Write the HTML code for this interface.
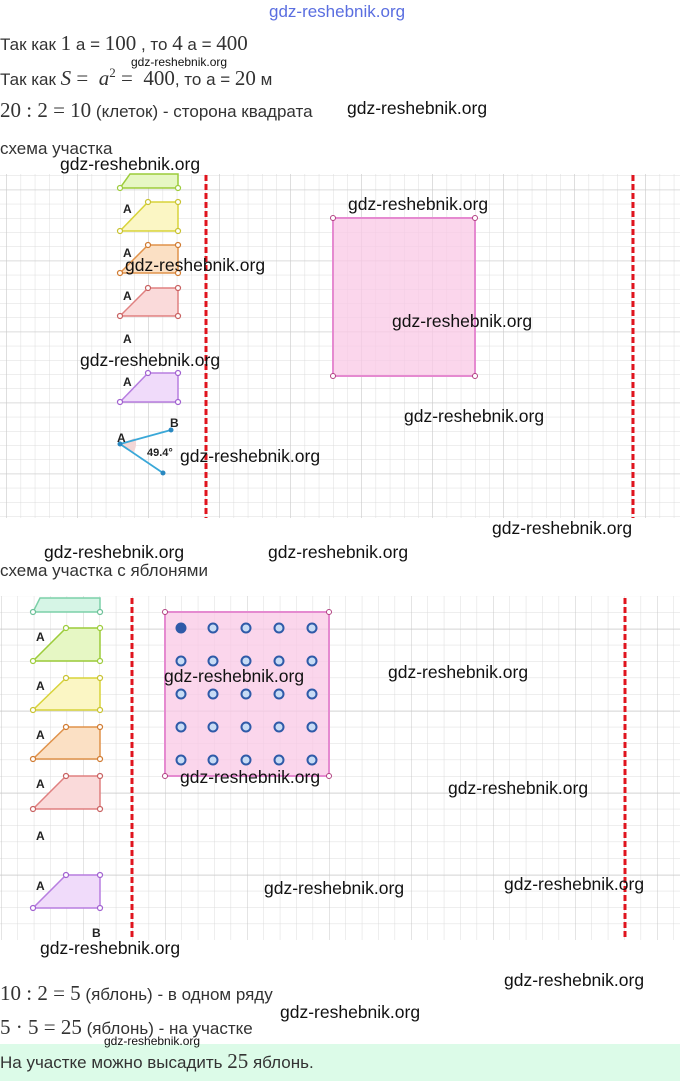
<!DOCTYPE html>
<html><head><meta charset="utf-8"><style>
body{margin:0;width:680px;height:1081px;background:#fff;overflow:hidden;position:relative;font-family:"Liberation Sans",sans-serif;}
.t{position:absolute;left:0;font-size:17px;color:#333;white-space:nowrap}
.m{font-family:"Liberation Serif",serif;font-size:21px}
.w{position:absolute;font-family:"Liberation Sans",sans-serif;font-size:17.5px;color:#111;white-space:nowrap}
svg{position:absolute;left:0;top:0}
</style></head><body>
<svg width="680" height="1081">
<defs>
<pattern id="g1" width="14.2" height="14.2" x="6.4" y="19.2" patternUnits="userSpaceOnUse"><path d="M0 0H14.2M0 0V14.2" stroke="#dcdcdc" stroke-width="1" fill="none"/></pattern>
<pattern id="G1" width="71" height="71" x="6.4" y="47.7" patternUnits="userSpaceOnUse"><path d="M0 0H71M0 0V71" stroke="#c8c8c8" stroke-width="1" fill="none"/></pattern>
<pattern id="g2" width="16.4" height="16.4" x="1" y="5.2" patternUnits="userSpaceOnUse"><path d="M0 0H16.4M0 0V16.4" stroke="#dcdcdc" stroke-width="1" fill="none"/></pattern>
<pattern id="G2" width="82" height="82" x="1" y="55" patternUnits="userSpaceOnUse"><path d="M0 0H82M0 0V82" stroke="#c8c8c8" stroke-width="1" fill="none"/></pattern>
</defs>
<rect x="0" y="172" width="680" height="346" fill="url(#g1)"/>
<rect x="0" y="172" width="680" height="346" fill="url(#G1)"/>
<rect x="0" y="596" width="680" height="344" fill="url(#g2)"/>
<rect x="0" y="596" width="680" height="344" fill="url(#G2)"/>
<rect x="0" y="160" width="680" height="14" fill="#fff"/>
<g stroke-width="1.5">
<polygon points="130,174 178,174 178,188 120,188" fill="#e6f7c4" stroke="#9ccc3a"/>
<polygon points="148,202 178,202 178,231 120,231" fill="#fbf6c4" stroke="#d8d33a"/>
<polygon points="148,245 178,245 178,273 120,273" fill="#fbe0c4" stroke="#e0924a"/>
<polygon points="148,288 178,288 178,316 120,316" fill="#fadada" stroke="#e08080"/>
<polygon points="148,373 178,373 178,402 120,402" fill="#f0dbfa" stroke="#b77ee0"/>
</g>
<g fill="#fff" stroke-width="1.2">
<g stroke="#9ccc3a"><circle cx="120" cy="188" r="2.5"/><circle cx="178" cy="188" r="2.5"/></g>
<g stroke="#c8c230"><circle cx="148" cy="202" r="2.5"/><circle cx="178" cy="202" r="2.5"/><circle cx="120" cy="231" r="2.5"/><circle cx="178" cy="231" r="2.5"/></g>
<g stroke="#d07a30"><circle cx="148" cy="245" r="2.5"/><circle cx="178" cy="245" r="2.5"/><circle cx="120" cy="273" r="2.5"/><circle cx="178" cy="273" r="2.5"/></g>
<g stroke="#c86060"><circle cx="148" cy="288" r="2.5"/><circle cx="178" cy="288" r="2.5"/><circle cx="120" cy="316" r="2.5"/><circle cx="178" cy="316" r="2.5"/></g>
<g stroke="#a060d0"><circle cx="148" cy="373" r="2.5"/><circle cx="178" cy="373" r="2.5"/><circle cx="120" cy="402" r="2.5"/><circle cx="178" cy="402" r="2.5"/></g>
</g>
<path d="M120 444 L135 438 A16 16 0 0 1 133 453 Z" fill="#f3d6d6"/>
<path d="M171 430 L120 444 L163 473" stroke="#3aa8d8" stroke-width="1.8" fill="none"/>
<circle cx="120" cy="444" r="2.5" fill="#2a88c0"/><circle cx="171" cy="430" r="2.5" fill="#2a88c0"/><circle cx="163" cy="473" r="2.5" fill="#2a88c0"/>
<g font-family="Liberation Sans" font-size="12" font-weight="bold" fill="#222">
<text x="123" y="213">A</text><text x="123" y="257">A</text><text x="123" y="300">A</text><text x="123" y="343">A</text><text x="123" y="386">A</text>
<text x="117" y="442">A</text><text x="170" y="427">B</text><text x="147" y="456" font-size="11">49.4°</text>
</g>
<line x1="206" y1="175" x2="206" y2="518" stroke="#e0141e" stroke-width="3" stroke-dasharray="6,3"/>
<line x1="633" y1="175" x2="633" y2="518" stroke="#e0141e" stroke-width="3" stroke-dasharray="6,3"/>
<rect x="333" y="218" width="142" height="158" fill="#f9c8e6" fill-opacity="0.75" stroke="#e58ad0" stroke-width="2"/>
<g fill="#fff" stroke="#b04080"><circle cx="333" cy="218" r="2.5"/><circle cx="475" cy="218" r="2.5"/><circle cx="333" cy="376" r="2.5"/><circle cx="475" cy="376" r="2.5"/></g>
<g stroke-width="1.5">
<polygon points="40,598 100,598 100,612 33,612" fill="#d6f5e6" stroke="#7cd0a8"/>
<polygon points="66,628 100,628 100,661 33,661" fill="#e6f7c4" stroke="#9ccc3a"/>
<polygon points="66,678 100,678 100,710 33,710" fill="#fbf6c4" stroke="#d8d33a"/>
<polygon points="66,727 100,727 100,759 33,759" fill="#fbe0c4" stroke="#e0924a"/>
<polygon points="66,776 100,776 100,809 33,809" fill="#fadada" stroke="#e08080"/>
<polygon points="66,875 100,875 100,908 33,908" fill="#f0dbfa" stroke="#b77ee0"/>
</g>
<g fill="#fff" stroke-width="1.2">
<g stroke="#6cc098"><circle cx="33" cy="612" r="2.5"/><circle cx="100" cy="612" r="2.5"/></g>
<g stroke="#9ccc3a"><circle cx="66" cy="628" r="2.5"/><circle cx="100" cy="628" r="2.5"/><circle cx="33" cy="661" r="2.5"/><circle cx="100" cy="661" r="2.5"/></g>
<g stroke="#c8c230"><circle cx="66" cy="678" r="2.5"/><circle cx="100" cy="678" r="2.5"/><circle cx="33" cy="710" r="2.5"/><circle cx="100" cy="710" r="2.5"/></g>
<g stroke="#d07a30"><circle cx="66" cy="727" r="2.5"/><circle cx="100" cy="727" r="2.5"/><circle cx="33" cy="759" r="2.5"/><circle cx="100" cy="759" r="2.5"/></g>
<g stroke="#c86060"><circle cx="66" cy="776" r="2.5"/><circle cx="100" cy="776" r="2.5"/><circle cx="33" cy="809" r="2.5"/><circle cx="100" cy="809" r="2.5"/></g>
<g stroke="#a060d0"><circle cx="66" cy="875" r="2.5"/><circle cx="100" cy="875" r="2.5"/><circle cx="33" cy="908" r="2.5"/><circle cx="100" cy="908" r="2.5"/></g>
</g>
<g font-family="Liberation Sans" font-size="12" font-weight="bold" fill="#222">
<text x="36" y="641">A</text><text x="36" y="690">A</text><text x="36" y="739">A</text><text x="36" y="788">A</text><text x="36" y="840">A</text><text x="36" y="890">A</text><text x="92" y="937">B</text>
</g>
<line x1="132" y1="598" x2="132" y2="940" stroke="#e0141e" stroke-width="3" stroke-dasharray="6,3"/>
<line x1="625" y1="598" x2="625" y2="940" stroke="#e0141e" stroke-width="3" stroke-dasharray="6,3"/>
<rect x="165" y="612" width="164" height="164" fill="#f9c8e6" fill-opacity="0.75" stroke="#e58ad0" stroke-width="2"/>
<g fill="#fff" stroke="#b04080"><circle cx="165" cy="612" r="2.5"/><circle cx="329" cy="612" r="2.5"/><circle cx="165" cy="776" r="2.5"/><circle cx="329" cy="776" r="2.5"/></g>
<g fill="#c8dcf5" stroke="#2f5aa8" stroke-width="2">
<circle cx="181" cy="628" r="4.5" fill="#2f5aa8"/><circle cx="213" cy="628" r="4.5"/><circle cx="246" cy="628" r="4.5"/><circle cx="279" cy="628" r="4.5"/><circle cx="312" cy="628" r="4.5"/>
<circle cx="181" cy="661" r="4.5"/><circle cx="213" cy="661" r="4.5"/><circle cx="246" cy="661" r="4.5"/><circle cx="279" cy="661" r="4.5"/><circle cx="312" cy="661" r="4.5"/>
<circle cx="181" cy="694" r="4.5"/><circle cx="213" cy="694" r="4.5"/><circle cx="246" cy="694" r="4.5"/><circle cx="279" cy="694" r="4.5"/><circle cx="312" cy="694" r="4.5"/>
<circle cx="181" cy="727" r="4.5"/><circle cx="213" cy="727" r="4.5"/><circle cx="246" cy="727" r="4.5"/><circle cx="279" cy="727" r="4.5"/><circle cx="312" cy="727" r="4.5"/>
<circle cx="181" cy="760" r="4.5"/><circle cx="213" cy="760" r="4.5"/><circle cx="246" cy="760" r="4.5"/><circle cx="279" cy="760" r="4.5"/><circle cx="312" cy="760" r="4.5"/>
</g>
<rect x="0" y="1044" width="680" height="37" fill="#dcfbe8"/>
</svg>

<div class="w" style="left:269px;top:2px;color:#5a6ee0;font-size:17px">gdz-reshebnik.org</div>
<div class="t" style="top:31px">Так как <span class="m">1</span> а = <span class="m">100</span> , то <span class="m">4</span> а = <span class="m">400</span></div>
<div class="t" style="top:65px">Так как <span class="m"><i>S</i> = &nbsp;<i>a</i><sup style="font-size:13px">2</sup> = &nbsp;400</span>, то а = <span class="m">20</span> м</div>
<div class="w" style="left:131px;top:55px;font-size:12px">gdz-reshebnik.org</div>
<div class="t" style="top:98px"><span class="m">20 : 2 = 10</span> (клеток) - сторона квадрата</div>
<div class="w" style="left:347px;top:98px">gdz-reshebnik.org</div>
<div class="t" style="top:139px">схема участка</div>
<div class="w" style="left:60px;top:154px">gdz-reshebnik.org</div>
<div class="w" style="left:348px;top:194px">gdz-reshebnik.org</div>
<div class="w" style="left:125px;top:255px">gdz-reshebnik.org</div>
<div class="w" style="left:392px;top:311px">gdz-reshebnik.org</div>
<div class="w" style="left:80px;top:350px">gdz-reshebnik.org</div>
<div class="w" style="left:404px;top:406px">gdz-reshebnik.org</div>
<div class="w" style="left:180px;top:446px">gdz-reshebnik.org</div>
<div class="w" style="left:492px;top:518px">gdz-reshebnik.org</div>
<div class="w" style="left:44px;top:542px">gdz-reshebnik.org</div>
<div class="w" style="left:268px;top:542px">gdz-reshebnik.org</div>
<div class="t" style="top:561px">схема участка с яблонями</div>
<div class="w" style="left:164px;top:666px">gdz-reshebnik.org</div>
<div class="w" style="left:388px;top:662px">gdz-reshebnik.org</div>
<div class="w" style="left:180px;top:767px">gdz-reshebnik.org</div>
<div class="w" style="left:448px;top:778px">gdz-reshebnik.org</div>
<div class="w" style="left:264px;top:878px">gdz-reshebnik.org</div>
<div class="w" style="left:504px;top:874px">gdz-reshebnik.org</div>
<div class="w" style="left:40px;top:938px">gdz-reshebnik.org</div>
<div class="w" style="left:504px;top:970px">gdz-reshebnik.org</div>
<div class="t" style="top:981px"><span class="m">10 : 2 = 5</span> (яблонь) - в одном ряду</div>
<div class="w" style="left:280px;top:1002px">gdz-reshebnik.org</div>
<div class="t" style="top:1015px"><span class="m">5 · 5 = 25</span> (яблонь) - на участке</div>
<div class="w" style="left:104px;top:1034px;font-size:12px">gdz-reshebnik.org</div>
<div class="t" style="top:1049px">На участке можно высадить <span class="m">25</span> яблонь.</div>
</body></html>
